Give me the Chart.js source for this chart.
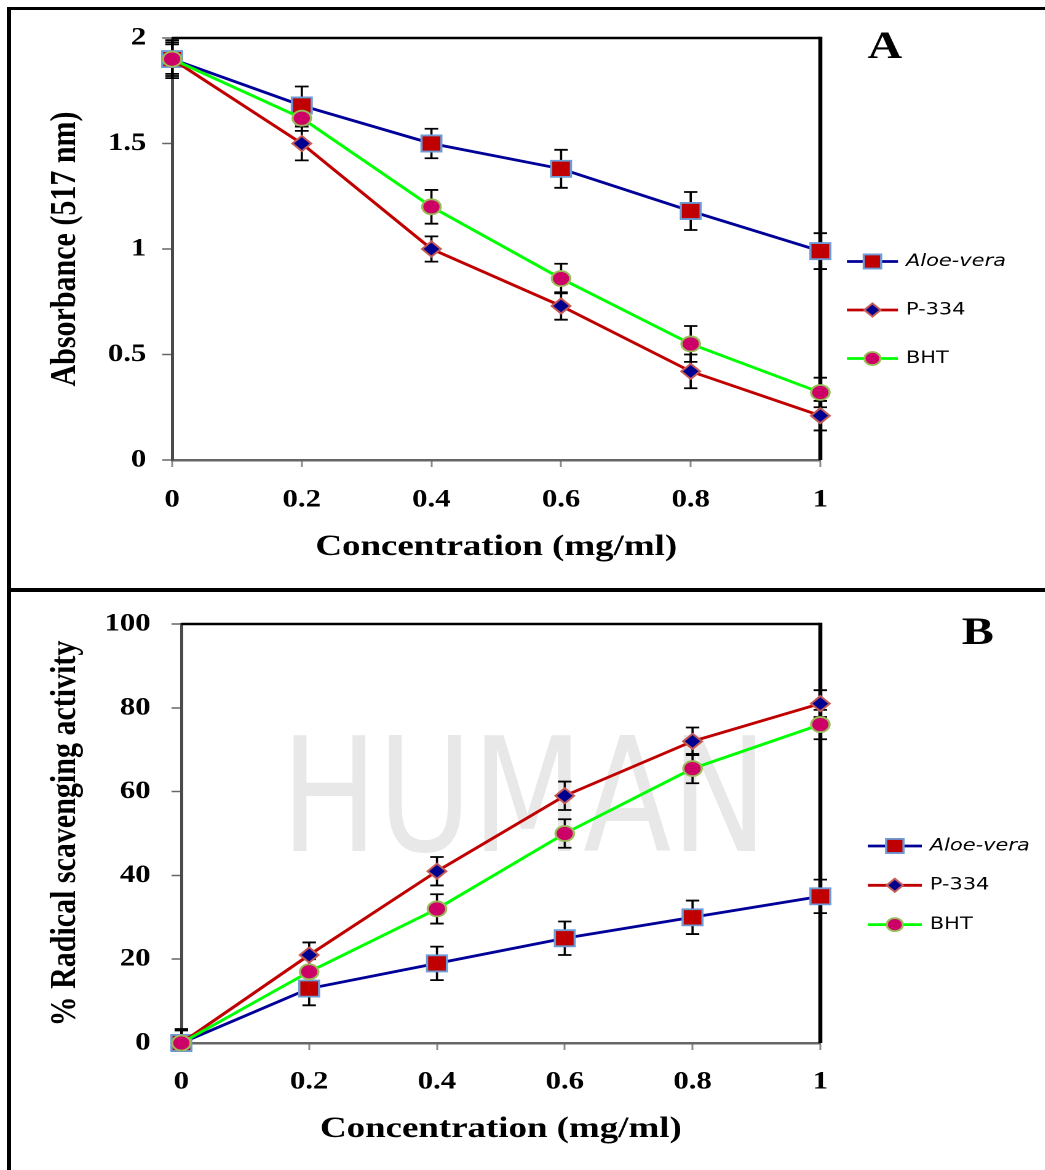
<!DOCTYPE html>
<html>
<head>
<meta charset="utf-8">
<title>DPPH assay</title>
<script src="https://cdn.jsdelivr.net/npm/chart.js@4.4.1/dist/chart.umd.min.js"></script>
<style>
  html, body { margin: 0; padding: 0; background: #fff; }
  #page { position: relative; width: 1045px; height: 1170px; overflow: hidden; background: #fff; }
  .rule { position: absolute; background: #000; }
  .panel { position: absolute; left: 11px; width: 841px; height: 578px; transform-origin: 0 0; transform: scaleX(1.23); }
  #watermark { position: absolute; left: 281px; top: 716px; font: 400 159px 'DejaVu Sans', sans-serif; line-height: 1; color: #e8e8e8; transform-origin: 0 0; transform: scaleX(0.81); white-space: nowrap; }
</style>
</head>
<body>
<div id="page">
  <div id="watermark">HUMAN</div>
  <div class="rule" style="left:7px; top:7px; width:1038px; height:3px;"></div>
  <div class="rule" style="left:7px; top:7px; width:4px; height:1163px;"></div>
  <div class="rule" style="left:7px; top:588px; width:1038px; height:4px;"></div>
  <div class="panel" style="top:10px;"><canvas id="chartA" width="841" height="578"></canvas></div>
  <div class="panel" style="top:592px;"><canvas id="chartB" width="841" height="578"></canvas></div>
</div>
<script>
// concentrations (mg/ml) and tick values
const conc = [0, 0.2, 0.4, 0.6, 0.8, 1];
const concTicks = [0, 0.2, 0.4, 0.6, 0.8, 1];
const absTicks = [0, 0.5, 1, 1.5, 2];
const scavTicks = [0, 20, 40, 60, 80, 100];

const seriesNames = ['Aloe-vera', 'P-334', 'BHT'];

// panel A: absorbance at 517 nm
const aloeAbs = [1.90, 1.68, 1.50, 1.38, 1.18, 0.99];
const aloeAbsErr = [0.09, 0.09, 0.07, 0.09, 0.09, 0.085];
const p334Abs = [1.90, 1.50, 1.00, 0.73, 0.42, 0.21];
const p334AbsErr = [0.08, 0.08, 0.06, 0.065, 0.08, 0.07];
const bhtAbs = [1.90, 1.62, 1.20, 0.86, 0.55, 0.32];
const bhtAbsErr = [0.07, 0.06, 0.08, 0.07, 0.085, 0.07];

// panel B: % radical scavenging activity
const aloeScav = [0, 13, 19, 25, 30, 35];
const aloeScavErr = [3.3, 4, 4, 4, 4, 4];
const p334Scav = [0, 21, 41, 59, 72, 81];
const p334ScavErr = [3.3, 3, 3.4, 3.4, 3.3, 3.2];
const bhtScav = [0, 17, 32, 50, 65.5, 76];
const bhtScavErr = [3, 3, 3.5, 3.4, 3.5, 3.5];

const SERIF = "'Liberation Serif', 'Times New Roman', serif";
const SANS = "'DejaVu Sans', Verdana, sans-serif";

const styles = [
  { line: '#000099', shape: 'rect', r: 11.4, lr: 10, fill: '#C00000', edge: '#6C9BD6', order: 3, italic: true },
  { line: '#C00000', shape: 'rectRot', r: 7.6, lr: 6.6, fill: '#000090', edge: '#C65A55', order: 2, italic: false },
  { line: '#00FF00', shape: 'circle', r: 7.5, lr: 6.5, fill: '#CC0066', edge: '#9BBB59', order: 1, italic: false }
];

function drawMarker(ctx, st, x, y, r) {
  ctx.beginPath();
  if (st.shape === 'rect') {
    const h = r * Math.SQRT1_2;
    ctx.rect(x - h, y - h, 2 * h, 2 * h);
  } else if (st.shape === 'rectRot') {
    ctx.moveTo(x, y - r); ctx.lineTo(x + r, y); ctx.lineTo(x, y + r); ctx.lineTo(x - r, y);
    ctx.closePath();
  } else {
    ctx.arc(x, y, r, 0, Math.PI * 2);
  }
  ctx.fillStyle = st.fill;
  ctx.fill();
  ctx.lineWidth = 1.8;
  ctx.strokeStyle = st.edge;
  ctx.stroke();
}

// vertical error bars, drawn under the lines and markers
const errorBars = {
  id: 'errorBars',
  beforeDatasetsDraw(chart) {
    const { ctx, chartArea, scales: { x, y } } = chart;
    const cap = 5.5;
    ctx.save();
    ctx.strokeStyle = '#000';
    ctx.lineWidth = 1.8;
    chart.data.datasets.forEach(ds => {
      ds.data.forEach((pt, i) => {
        const e = ds.errors[i];
        const px = x.getPixelForValue(pt.x);
        const top = Math.max(y.getPixelForValue(pt.y + e), chartArea.top);
        const bot = Math.min(y.getPixelForValue(pt.y - e), chartArea.bottom);
        ctx.beginPath();
        ctx.moveTo(px, top); ctx.lineTo(px, bot);
        if (top > chartArea.top) { ctx.moveTo(px - cap, top); ctx.lineTo(px + cap, top); }
        if (bot < chartArea.bottom) { ctx.moveTo(px - cap, bot); ctx.lineTo(px + cap, bot); }
        ctx.stroke();
      });
    });
    ctx.restore();
  }
};

// black top and right frame of the plot box
const frame = {
  id: 'frame',
  beforeDatasetsDraw(chart) {
    const { ctx, chartArea: a } = chart;
    ctx.save();
    ctx.strokeStyle = '#000';
    ctx.lineWidth = 2.5;
    ctx.beginPath(); ctx.moveTo(a.left, a.top); ctx.lineTo(a.right, a.top); ctx.stroke();
    ctx.lineWidth = 3.3;
    ctx.beginPath(); ctx.moveTo(a.right, a.top - 1.2); ctx.lineTo(a.right, a.bottom); ctx.stroke();
    ctx.restore();
  }
};

// legend on the right and the panel letter
const sideLegend = {
  id: 'sideLegend',
  afterDraw(chart, args, opts) {
    const { ctx, chartArea: a } = chart;
    const midY = (a.top + a.bottom) / 2;
    ctx.save();
    chart.data.datasets.forEach((ds, i) => {
      const st = styles[i];
      const y = midY + opts.dy + i * opts.gap;
      const x0 = a.right + opts.dx, x1 = x0 + opts.len;
      ctx.strokeStyle = st.line;
      ctx.lineWidth = 2.8;
      ctx.beginPath(); ctx.moveTo(x0, y); ctx.lineTo(x1, y); ctx.stroke();
      drawMarker(ctx, st, (x0 + x1) / 2, y, st.lr);
      ctx.fillStyle = '#000';
      ctx.font = (st.italic ? 'italic ' : '') + '17px ' + SANS;
      ctx.textAlign = 'left';
      ctx.textBaseline = 'middle';
      ctx.fillText(ds.label, x1 + 6.5, y);
    });
    ctx.font = 'bold 39px ' + SERIF;
    ctx.textAlign = 'center';
    ctx.textBaseline = 'alphabetic';
    ctx.fillText(opts.letter, a.right + opts.letterDx, a.top + opts.letterDy);
    ctx.restore();
  }
};

function series(values, errors, i) {
  const st = styles[i];
  return {
    label: seriesNames[i],
    data: conc.map((c, k) => ({ x: c, y: values[k] })),
    errors: errors,
    borderColor: st.line,
    borderWidth: 2.8,
    pointStyle: st.shape,
    pointRadius: st.r,
    pointBackgroundColor: st.fill,
    pointBorderColor: st.edge,
    pointBorderWidth: 1.8,
    tension: 0,
    clip: false,
    order: st.order
  };
}

function makeChart(id, cfg) {
  return new Chart(document.getElementById(id), {
    type: 'line',
    data: { datasets: cfg.datasets },
    options: {
      responsive: false,
      devicePixelRatio: 2,
      animation: false,
      events: [],
      layout: { padding: cfg.padding },
      plugins: {
        legend: { display: false },
        tooltip: { enabled: false },
        sideLegend: cfg.legend
      },
      scales: {
        x: {
          type: 'linear', min: 0, max: 1,
          afterBuildTicks: s => { s.ticks = concTicks.map(v => ({ value: v })); },
          afterFit: s => { s.height = 110; },
          ticks: { color: '#000', padding: cfg.xTickPad, callback: v => String(v), font: { family: SERIF, size: 25, weight: 'bold' } },
          grid: { drawOnChartArea: false, tickLength: 7, color: '#8a8a8a', tickWidth: 1.5 },
          border: { color: '#666', width: 2.5 },
          title: { display: true, text: 'Concentration (mg/ml)', color: '#000', padding: { top: 0, bottom: cfg.xTitlePad }, font: { family: SERIF, size: 30, weight: 'bold', lineHeight: 1.2 } }
        },
        y: {
          type: 'linear', min: cfg.yTicks[0], max: cfg.yTicks[cfg.yTicks.length - 1],
          afterBuildTicks: s => { s.ticks = cfg.yTicks.map(v => ({ value: v })); },
          afterFit: s => { s.width = cfg.yWidth; },
          ticks: { color: '#000', padding: cfg.yTickPad, callback: v => String(v), font: { family: SERIF, size: 25, weight: 'bold' } },
          grid: { drawOnChartArea: false, tickLength: 8, color: '#666', tickWidth: 1.5 },
          border: { color: '#4a4a4a', width: 2.5 },
          title: { display: true, text: cfg.yTitle, color: '#000', padding: { top: 26, bottom: 0 }, font: { family: SERIF, size: 30, weight: 'bold', lineHeight: 1.2 } }
        }
      }
    },
    plugins: [frame, errorBars, sideLegend]
  });
}

makeChart('chartA', {
  datasets: [series(aloeAbs, aloeAbsErr, 0), series(p334Abs, p334AbsErr, 1), series(bhtAbs, bhtAbsErr, 2)],
  yTicks: absTicks,
  yTitle: 'Absorbance (517 nm)',
  yWidth: 131,
  yTickPad: 13,
  xTickPad: 18,
  xTitlePad: 5,
  padding: { left: 0, top: 23, right: 183, bottom: 18 },
  legend: { dx: 21.6, len: 41.5, dy: 12.5, gap: 48.5, letter: 'A', letterDx: 52.5, letterDy: 20 }
});

makeChart('chartB', {
  datasets: [series(aloeScav, aloeScavErr, 0), series(p334Scav, p334ScavErr, 1), series(bhtScav, bhtScavErr, 2)],
  yTicks: scavTicks,
  yTitle: '% Radical scavenging activity',
  yWidth: 138.5,
  yTickPad: 17,
  xTickPad: 17,
  xTitlePad: 6,
  padding: { left: 0, top: 24, right: 183, bottom: 17 },
  legend: { dx: 38.6, len: 43.9, dy: 12.5, gap: 39.3, letter: 'B', letterDx: 128, letterDy: 20 }
});
</script>
</body>
</html>
